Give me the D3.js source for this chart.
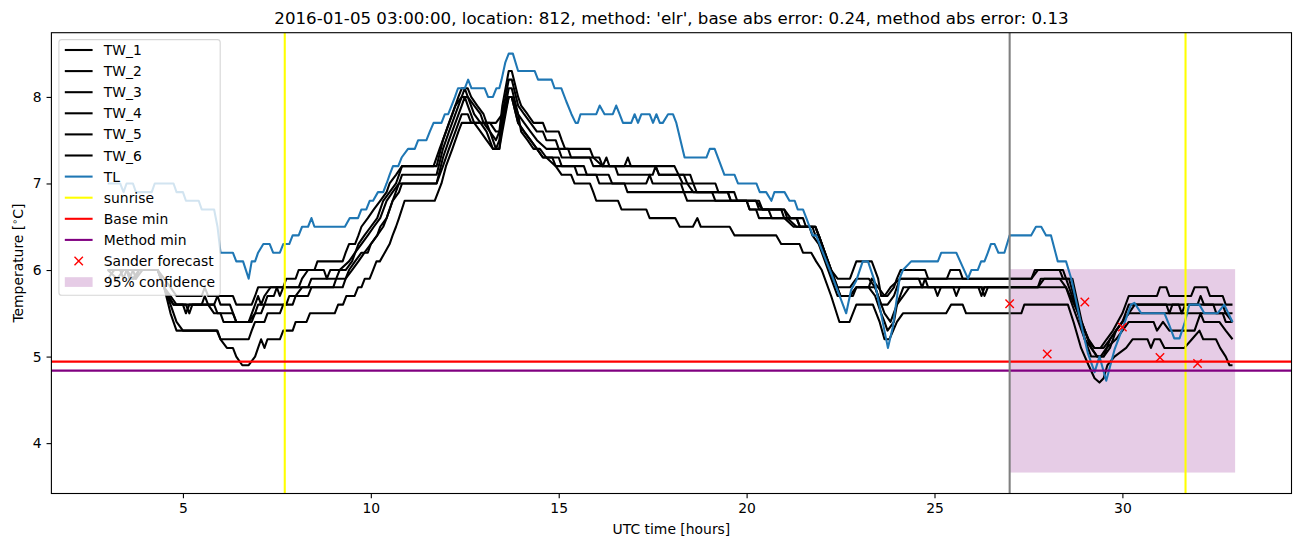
<!DOCTYPE html>
<html><head><meta charset="utf-8">
<script src="https://cdn.jsdelivr.net/npm/d3@7/dist/d3.min.js"></script>
<style>body{margin:0;background:#fff;} text{font-family:"DejaVu Sans",sans-serif;fill:#000;}</style>
</head><body><svg id="c" width="1302" height="547"></svg>
<script>
// ---------------- DATA ----------------
const titleText = "2016-01-05 03:00:00, location: 812, method: 'elr', base abs error: 0.24, method abs error: 0.13";
const xTicks = [5, 10, 15, 20, 25, 30];
const yTicks = [4, 5, 6, 7, 8];
const seriesNames = ["TW_1", "TW_2", "TW_3", "TW_4", "TW_5", "TW_6"];

const TW_1 = [[3.0,6.0],[3.5,6.0],[3.58,5.9],[3.67,6.0],[4.33,6.0],[4.5,5.9],[4.67,5.8],[4.83,5.7],[5.5,5.7],[5.58,5.8],[5.67,5.7],[6.33,5.7],[6.42,5.6],[6.83,5.6],[6.92,5.7],[7.0,5.8],[7.67,5.8],[7.75,5.9],[8.0,5.9],[8.08,6.0],[8.5,6.0],[8.58,6.1],[9.25,6.1],[9.33,6.2],[9.42,6.3],[9.58,6.3],[9.67,6.4],[9.75,6.5],[9.92,6.6],[10.08,6.7],[10.25,6.8],[10.42,6.9],[10.5,7.0],[10.67,7.1],[10.83,7.2],[11.67,7.2],[11.83,7.4],[12.0,7.6],[12.17,7.8],[12.33,8.0],[12.42,8.1],[12.58,8.1],[12.67,8.0],[12.83,7.9],[13.0,7.8],[13.08,7.7],[13.17,7.6],[13.33,7.5],[13.42,7.6],[13.5,7.9],[13.67,8.3],[13.75,8.3],[13.92,8.0],[14.0,7.9],[14.17,7.8],[14.33,7.7],[14.58,7.7],[14.67,7.6],[15.0,7.6],[15.08,7.5],[15.17,7.4],[15.83,7.4],[15.92,7.3],[16.17,7.2],[16.27,7.3],[16.35,7.2],[16.75,7.2],[16.84,7.3],[16.92,7.2],[18.08,7.2],[18.3,7.0],[19.17,7.0],[19.25,6.9],[19.67,6.9],[19.75,6.8],[20.33,6.8],[20.42,6.7],[20.92,6.7],[21.0,6.6],[21.33,6.6],[21.42,6.5],[21.75,6.5],[21.83,6.4],[21.92,6.4],[22.25,6.0],[22.42,5.9],[22.75,5.9],[22.92,6.1],[23.33,6.1],[23.5,5.9],[23.58,5.7],[23.75,5.7],[23.92,5.8],[24.0,5.9],[24.1,6.0],[24.75,6.0],[24.83,5.9],[25.33,5.9],[25.42,6.0],[25.67,6.0],[25.75,5.9],[27.58,5.9],[27.75,6.0],[28.42,6.0],[28.5,5.9],[28.67,5.9],[28.92,5.4],[29.08,5.2],[29.25,5.1],[29.42,5.1],[29.58,5.2],[29.75,5.3],[30.0,5.5],[30.17,5.7],[30.92,5.7],[31.0,5.8],[31.17,5.8],[31.25,5.7],[31.83,5.7],[31.92,5.8],[32.25,5.8],[32.33,5.7],[32.67,5.7],[32.75,5.6],[32.93,5.6]];
const TW_2 = [[3.0,6.0],[3.33,6.0],[3.42,5.9],[3.5,6.0],[4.33,6.0],[4.5,5.8],[4.67,5.7],[4.83,5.6],[5.0,5.6],[5.08,5.5],[5.17,5.6],[5.83,5.6],[5.92,5.7],[6.0,5.6],[6.25,5.6],[6.42,5.4],[6.75,5.4],[6.92,5.6],[7.0,5.7],[7.08,5.6],[7.17,5.7],[7.33,5.8],[7.5,5.8],[7.58,5.7],[7.67,5.8],[8.08,5.8],[8.17,5.9],[8.33,6.0],[8.75,6.0],[8.83,5.9],[8.92,6.0],[9.33,6.0],[9.5,6.1],[9.67,6.3],[9.83,6.4],[10.0,6.5],[10.17,6.6],[10.33,6.8],[10.5,6.9],[10.67,7.0],[10.75,7.1],[10.83,7.2],[11.75,7.2],[11.92,7.5],[12.08,7.7],[12.25,7.9],[12.42,8.0],[12.5,8.1],[12.58,8.0],[12.75,7.9],[12.92,7.8],[13.0,7.7],[13.17,7.6],[13.25,7.5],[13.33,7.4],[13.42,7.5],[13.5,7.8],[13.67,8.2],[13.75,8.2],[13.92,7.9],[14.08,7.8],[14.25,7.7],[14.42,7.6],[14.58,7.6],[14.67,7.5],[14.92,7.5],[15.0,7.4],[15.25,7.4],[15.33,7.3],[16.08,7.3],[16.17,7.2],[17.58,7.2],[17.67,7.1],[18.5,7.1],[18.58,7.0],[18.67,6.9],[19.5,6.9],[19.58,6.8],[20.25,6.8],[20.42,6.7],[21.0,6.7],[21.08,6.6],[21.33,6.5],[21.83,6.5],[21.92,6.4],[22.17,6.1],[22.42,5.8],[22.75,5.8],[22.92,5.9],[23.25,5.9],[23.42,5.8],[23.58,5.6],[23.75,5.6],[23.92,5.7],[24.0,5.8],[24.08,5.9],[24.58,5.9],[24.67,5.8],[24.75,5.9],[27.58,5.9],[27.67,6.0],[28.33,6.0],[28.42,5.9],[28.58,5.9],[28.83,5.5],[29.0,5.3],[29.17,5.1],[29.33,5.0],[29.5,5.0],[29.67,5.2],[29.83,5.3],[30.0,5.4],[30.17,5.6],[31.17,5.6],[31.25,5.5],[31.33,5.6],[32.0,5.6],[32.08,5.7],[32.17,5.6],[32.67,5.6],[32.75,5.5],[32.93,5.5]];
const TW_3 = [[3.0,5.9],[3.17,6.0],[3.5,6.0],[3.58,5.9],[3.75,5.9],[3.83,6.0],[4.33,6.0],[4.5,5.8],[4.75,5.6],[5.08,5.6],[5.17,5.5],[5.25,5.6],[5.67,5.6],[5.83,5.5],[6.0,5.5],[6.08,5.4],[6.75,5.4],[6.92,5.5],[7.0,5.6],[7.17,5.6],[7.25,5.7],[7.42,5.7],[7.5,5.8],[8.33,5.8],[8.42,5.9],[9.08,5.9],[9.17,6.0],[9.42,6.1],[9.58,6.2],[9.75,6.3],[9.92,6.4],[10.08,6.5],[10.25,6.6],[10.42,6.8],[10.58,6.9],[10.75,7.0],[10.83,7.1],[11.75,7.1],[11.92,7.4],[12.08,7.6],[12.25,7.8],[12.42,8.0],[12.58,8.0],[12.75,7.8],[12.92,7.7],[13.08,7.6],[13.25,7.4],[13.42,7.4],[13.5,7.7],[13.67,8.1],[13.75,8.1],[13.92,7.8],[14.08,7.7],[14.25,7.6],[14.42,7.5],[14.67,7.4],[15.0,7.4],[15.08,7.3],[15.83,7.3],[15.92,7.2],[16.5,7.2],[16.58,7.1],[17.5,7.1],[17.58,7.2],[17.67,7.1],[18.33,7.1],[18.42,7.0],[18.58,6.9],[19.5,6.9],[19.58,6.8],[20.25,6.8],[20.33,6.7],[21.0,6.7],[21.17,6.6],[21.5,6.6],[21.58,6.5],[21.83,6.5],[22.0,6.3],[22.3,5.9],[22.5,5.7],[22.75,5.7],[22.92,5.8],[23.25,5.8],[23.33,5.9],[23.5,5.8],[23.67,5.7],[23.83,5.8],[24.08,5.9],[24.75,5.9],[24.83,5.8],[25.0,5.8],[25.08,5.7],[25.17,5.8],[26.17,5.8],[26.25,5.7],[26.33,5.8],[27.75,5.8],[27.83,5.9],[28.5,5.9],[28.58,5.8],[28.9,5.4],[29.1,5.2],[29.25,5.1],[29.5,5.1],[29.67,5.2],[29.83,5.3],[30.0,5.4],[30.17,5.5],[32.75,5.5],[32.93,5.4]];
const TW_4 = [[3.0,6.0],[3.25,5.9],[3.42,6.0],[4.33,6.0],[4.42,5.9],[4.58,5.7],[4.75,5.6],[5.5,5.6],[5.58,5.7],[5.67,5.6],[5.83,5.6],[5.92,5.5],[6.33,5.5],[6.42,5.4],[6.83,5.4],[6.92,5.5],[7.08,5.5],[7.17,5.6],[7.75,5.6],[7.83,5.7],[8.33,5.7],[8.42,5.8],[9.25,5.8],[9.33,5.9],[9.5,6.0],[9.67,6.1],[9.83,6.2],[10.0,6.3],[10.17,6.4],[10.33,6.5],[10.42,6.6],[10.58,6.8],[10.75,6.9],[10.83,7.0],[11.75,7.0],[11.92,7.3],[12.08,7.5],[12.25,7.7],[12.42,7.9],[12.5,8.0],[12.58,7.9],[12.75,7.7],[12.92,7.6],[13.08,7.5],[13.25,7.4],[13.42,7.4],[13.5,7.6],[13.67,8.0],[13.75,8.0],[13.92,7.7],[14.08,7.6],[14.25,7.5],[14.42,7.4],[14.58,7.3],[15.0,7.3],[15.08,7.2],[15.67,7.2],[15.75,7.1],[16.33,7.1],[16.42,7.0],[17.33,7.0],[17.42,7.1],[17.5,7.0],[18.25,7.0],[18.33,6.9],[19.08,6.9],[19.17,6.8],[20.0,6.8],[20.08,6.7],[20.58,6.7],[20.67,6.6],[21.0,6.6],[21.25,6.5],[21.67,6.5],[21.75,6.4],[21.92,6.3],[22.17,6.0],[22.42,5.7],[22.75,5.7],[22.92,5.8],[23.42,5.8],[23.5,5.7],[23.67,5.5],[23.83,5.4],[24.0,5.6],[24.17,5.7],[24.33,5.8],[25.5,5.8],[25.58,5.7],[25.67,5.8],[26.25,5.8],[26.33,5.7],[26.42,5.8],[28.5,5.8],[28.58,5.7],[28.83,5.4],[29.0,5.2],[29.17,5.1],[29.33,5.0],[29.5,5.0],[29.67,5.1],[29.83,5.3],[30.0,5.4],[30.17,5.5],[30.33,5.6],[31.5,5.6],[31.58,5.5],[31.67,5.6],[32.42,5.6],[32.5,5.5],[32.67,5.5],[32.75,5.4],[32.93,5.4]];
const TW_5 = [[3.0,6.0],[3.67,6.0],[3.75,5.9],[3.92,6.0],[4.33,6.0],[4.5,5.8],[4.67,5.5],[4.83,5.3],[5.92,5.3],[6.0,5.2],[6.75,5.2],[6.83,5.3],[6.92,5.4],[7.17,5.4],[7.25,5.5],[7.58,5.5],[7.67,5.6],[7.92,5.6],[8.0,5.7],[8.17,5.8],[9.0,5.8],[9.08,5.9],[9.33,5.9],[9.42,6.0],[9.58,6.1],[9.75,6.2],[9.92,6.2],[10.0,6.3],[10.17,6.4],[10.25,6.5],[10.42,6.6],[10.58,6.8],[10.75,7.0],[11.75,7.0],[11.92,7.2],[12.08,7.4],[12.25,7.6],[12.42,7.8],[12.58,7.8],[12.67,7.7],[13.17,7.7],[13.33,7.6],[13.42,7.6],[13.5,7.7],[13.67,8.0],[13.75,8.0],[13.92,7.7],[14.08,7.6],[14.25,7.5],[14.42,7.4],[14.58,7.3],[14.83,7.3],[14.92,7.2],[15.42,7.2],[15.5,7.1],[16.0,7.1],[16.08,7.0],[16.75,7.0],[16.83,6.9],[18.33,6.9],[18.42,6.8],[20.0,6.8],[20.08,6.7],[20.25,6.7],[20.33,6.6],[21.33,6.6],[21.42,6.5],[21.83,6.5],[21.92,6.4],[22.08,6.2],[22.33,5.9],[22.5,5.7],[22.83,5.7],[22.92,5.8],[23.25,5.8],[23.42,5.7],[23.58,5.5],[23.67,5.4],[23.75,5.3],[23.92,5.4],[24.0,5.6],[24.17,5.8],[27.75,5.8],[27.92,5.9],[28.33,5.9],[28.5,5.8],[28.83,5.5],[29.0,5.2],[29.17,5.0],[29.42,5.0],[29.58,5.1],[29.83,5.2],[30.0,5.3],[30.17,5.4],[30.83,5.4],[30.92,5.3],[31.08,5.4],[31.25,5.3],[31.92,5.3],[32.0,5.4],[32.08,5.5],[32.17,5.4],[32.58,5.4],[32.75,5.3],[32.93,5.2]];
const TW_6 = [[3.0,6.0],[3.5,6.0],[3.67,5.9],[3.83,6.0],[4.33,6.0],[4.5,5.8],[4.67,5.6],[4.83,5.4],[5.0,5.3],[5.9,5.3],[6.0,5.2],[6.17,5.1],[6.33,5.1],[6.42,5.0],[6.58,4.9],[6.75,4.9],[6.92,5.0],[7.0,5.1],[7.08,5.2],[7.17,5.1],[7.25,5.2],[7.58,5.2],[7.67,5.3],[7.92,5.3],[8.0,5.4],[8.29,5.4],[8.38,5.5],[9.04,5.5],[9.13,5.6],[9.26,5.6],[9.35,5.7],[9.57,5.7],[9.66,5.8],[9.75,5.8],[9.84,5.9],[9.97,5.9],[10.06,6.0],[10.15,6.1],[10.24,6.1],[10.37,6.2],[10.5,6.3],[10.58,6.4],[10.67,6.5],[10.75,6.6],[10.9,6.8],[11.7,6.8],[11.79,6.9],[11.88,7.0],[12.0,7.2],[12.17,7.4],[12.33,7.6],[12.42,7.7],[13.33,7.7],[13.5,7.8],[13.67,8.0],[13.75,8.0],[13.92,7.8],[14.0,7.6],[14.17,7.5],[14.33,7.4],[14.5,7.4],[14.67,7.3],[14.92,7.2],[15.08,7.1],[15.33,7.1],[15.42,7.0],[15.83,7.0],[15.92,6.9],[16.0,6.8],[16.58,6.8],[16.67,6.7],[17.33,6.7],[17.42,6.6],[18.1,6.6],[18.22,6.5],[18.57,6.5],[18.69,6.6],[18.78,6.5],[19.55,6.5],[19.68,6.4],[20.79,6.4],[20.92,6.3],[21.41,6.3],[21.5,6.2],[21.72,6.2],[21.85,6.1],[22.0,6.0],[22.25,5.7],[22.47,5.4],[22.74,5.4],[22.92,5.6],[23.36,5.6],[23.54,5.4],[23.67,5.2],[23.8,5.2],[23.9,5.3],[24.0,5.4],[24.16,5.5],[25.31,5.5],[25.44,5.6],[25.75,5.6],[25.84,5.5],[27.31,5.5],[27.39,5.6],[28.55,5.6],[28.7,5.4],[28.9,5.1],[29.1,4.9],[29.26,4.75],[29.39,4.7],[29.5,4.75],[29.6,4.9],[29.79,5.0],[30.1,5.1],[30.27,5.2],[30.67,5.2],[30.76,5.1],[30.85,5.2],[31.0,5.2],[31.12,5.1],[31.65,5.1],[31.85,5.2],[32.05,5.3],[32.15,5.2],[32.49,5.2],[32.6,5.1],[32.75,5.0],[32.85,4.9],[32.93,4.9]];
const TL = [[3.0,7.0],[3.33,7.0],[3.42,6.9],[3.5,7.0],[3.67,7.0],[3.75,6.9],[4.17,6.9],[4.25,7.0],[4.75,7.0],[4.83,6.9],[5.0,6.9],[5.08,6.8],[5.42,6.8],[5.5,6.7],[5.83,6.7],[5.92,6.5],[6.0,6.2],[6.33,6.2],[6.42,6.1],[6.6,6.1],[6.75,5.9],[6.83,6.1],[6.92,6.1],[7.0,6.2],[7.14,6.3],[7.31,6.3],[7.4,6.2],[7.58,6.2],[7.67,6.3],[7.83,6.3],[7.92,6.4],[8.08,6.4],[8.17,6.5],[8.33,6.5],[8.42,6.6],[8.5,6.5],[9.31,6.5],[9.44,6.6],[9.66,6.6],[9.75,6.7],[9.88,6.7],[9.97,6.8],[10.06,6.8],[10.19,6.9],[10.33,6.9],[10.42,7.0],[10.5,7.1],[10.59,7.2],[10.73,7.2],[10.82,7.3],[10.99,7.4],[11.17,7.4],[11.26,7.5],[11.48,7.5],[11.57,7.6],[11.67,7.7],[11.88,7.7],[11.97,7.8],[12.06,7.8],[12.15,7.9],[12.24,8.0],[12.32,8.1],[12.5,8.1],[12.59,8.2],[12.68,8.1],[13.03,8.1],[13.12,8.0],[13.25,8.0],[13.34,8.1],[13.42,8.1],[13.48,8.2],[13.58,8.4],[13.67,8.5],[13.78,8.5],[13.92,8.3],[14.36,8.3],[14.45,8.2],[14.81,8.2],[14.89,8.1],[15.07,8.1],[15.2,7.95],[15.34,7.8],[15.45,7.7],[15.51,7.7],[15.58,7.8],[16.0,7.8],[16.09,7.9],[16.22,7.8],[16.44,7.8],[16.53,7.9],[16.62,7.8],[16.71,7.7],[16.93,7.7],[17.02,7.8],[17.11,7.7],[17.2,7.8],[17.42,7.8],[17.51,7.7],[17.6,7.8],[17.69,7.7],[17.77,7.7],[17.91,7.8],[18.04,7.8],[18.13,7.7],[18.35,7.3],[18.93,7.3],[19.02,7.4],[19.15,7.4],[19.41,7.1],[19.68,7.1],[19.77,7.0],[20.26,7.0],[20.35,6.9],[20.52,6.9],[20.66,6.8],[20.74,6.9],[21.01,6.9],[21.14,6.8],[21.28,6.8],[21.36,6.7],[21.5,6.7],[21.59,6.6],[21.76,6.4],[21.85,6.4],[22.25,5.96],[22.65,5.5],[22.78,5.77],[22.92,5.88],[23.09,6.1],[23.23,6.1],[23.4,5.88],[23.76,5.1],[23.89,5.34],[24.07,5.9],[24.16,6.0],[24.38,6.1],[25.09,6.1],[25.18,6.2],[25.58,6.2],[25.89,5.9],[25.98,6.0],[26.15,6.0],[26.24,6.1],[26.33,6.1],[26.42,6.2],[26.5,6.3],[26.6,6.3],[26.7,6.2],[26.86,6.2],[27.0,6.4],[27.57,6.4],[27.7,6.5],[27.84,6.5],[27.97,6.4],[28.1,6.4],[28.28,6.1],[28.5,6.1],[28.64,5.9],[28.94,5.3],[29.08,5.04],[29.26,4.82],[29.39,5.0],[29.57,4.72],[29.79,5.08],[29.92,5.23],[30.05,5.38],[30.23,5.6],[30.32,5.62],[30.5,5.5],[31.12,5.5],[31.25,5.36],[31.38,5.21],[31.52,5.21],[31.65,5.38],[31.78,5.6],[32.05,5.6],[32.18,5.5],[32.53,5.5],[32.71,5.6],[32.93,5.4]];

const sunriseHours = [7.71, 31.68];
const nowHour = 27.0;
const baseMin = 4.942;
const methodMin = 4.838;
const forecastHours = [27, 28, 29, 30, 31, 32];
const forecastTemps = [5.61, 5.03, 5.63, 5.34, 4.99, 4.92];
const confHours = [27, 33];
const confTemps = [3.66, 6.01];
const legendLabels = ["TW_1","TW_2","TW_3","TW_4","TW_5","TW_6","TL","sunrise","Base min","Method min","Sander forecast","95% confidence"];

// ---------------- LAYOUT ----------------
const svg = d3.select("#c");
const L = 51.4, R = 1291.5, T = 32.7, B = 493.5;
const x = d3.scaleLinear().domain([1.5, 34.5]).range([L, R]);
const y = d3.scaleLinear().domain([3.418, 8.742]).range([B, T]);
const blue = "#1f77b4";
const purpleFill = "rgba(128,0,128,0.2)";

svg.append("rect").attr("width",1302).attr("height",547).attr("fill","#fff");
svg.append("defs").append("clipPath").attr("id","clip")
  .append("rect").attr("x",L).attr("y",T).attr("width",R-L).attr("height",B-T);
const g = svg.append("g").attr("clip-path","url(#clip)");

// confidence band
g.append("rect")
  .attr("x", x(confHours[0])).attr("width", x(confHours[1]) - x(confHours[0]))
  .attr("y", y(confTemps[1])).attr("height", y(confTemps[0]) - y(confTemps[1]))
  .attr("fill", purpleFill);

const line = d3.line().x(d => x(d[0])).y(d => y(d[1]));
[TW_1, TW_2, TW_3, TW_4, TW_5, TW_6].forEach(s => {
  g.append("path").datum(s).attr("d", line).attr("fill","none")
   .attr("stroke","#000").attr("stroke-width",2.08).attr("stroke-linejoin","round");
});
g.append("path").datum(TL).attr("d", line).attr("fill","none")
  .attr("stroke",blue).attr("stroke-width",2.08).attr("stroke-linejoin","round");

// sunrise
sunriseHours.forEach(h => {
  g.append("line").attr("x1",x(h)).attr("x2",x(h)).attr("y1",T).attr("y2",B)
   .attr("stroke","#ffff00").attr("stroke-width",2.08);
});
// base/method min
g.append("line").attr("x1",L).attr("x2",R).attr("y1",y(baseMin)).attr("y2",y(baseMin))
  .attr("stroke","#ff0000").attr("stroke-width",2.08);
g.append("line").attr("x1",L).attr("x2",R).attr("y1",y(methodMin)).attr("y2",y(methodMin))
  .attr("stroke","#800080").attr("stroke-width",2.08);
// now line
g.append("line").attr("x1",x(nowHour)).attr("x2",x(nowHour)).attr("y1",T).attr("y2",B)
  .attr("stroke","#808080").attr("stroke-width",2.08);

// forecast markers
const xm = "M-4.2,-4.2L4.2,4.2M-4.2,4.2L4.2,-4.2";
forecastHours.forEach((h,i) => {
  g.append("path").attr("d", xm)
   .attr("transform",`translate(${x(h)},${y(forecastTemps[i])})`)
   .attr("stroke","#ff0000").attr("stroke-width",1.4).attr("fill","none");
});

// axes
const fs = 13.9;
const xAxis = svg.append("g").attr("transform",`translate(0,${B})`)
  .call(d3.axisBottom(x).tickValues(xTicks).tickSizeInner(4.86).tickSizeOuter(0).tickPadding(4.86).tickFormat(d3.format("d")));
const yAxis = svg.append("g").attr("transform",`translate(${L},0)`)
  .call(d3.axisLeft(y).tickValues(yTicks).tickSizeInner(4.86).tickSizeOuter(0).tickPadding(4.86).tickFormat(d3.format("d")));
[xAxis, yAxis].forEach(a => {
  a.select(".domain").remove();
  a.selectAll("line").attr("stroke","#000").attr("stroke-width",1.1);
  a.selectAll("text").attr("font-size",fs).attr("font-family","DejaVu Sans").attr("fill","#000");
});
// spines
svg.append("rect").attr("x",L).attr("y",T).attr("width",R-L).attr("height",B-T)
  .attr("fill","none").attr("stroke","#000").attr("stroke-width",1.1);

// labels
svg.append("text").attr("x",(L+R)/2).attr("y",24.4).attr("text-anchor","middle")
  .attr("font-size",16.67).text(titleText);
svg.append("text").attr("x",(L+R)/2).attr("y",534).attr("text-anchor","middle")
  .attr("font-size",fs).text("UTC time [hours]");
const yl = svg.append("text").attr("transform",`translate(23,${(T+B)/2}) rotate(-90)`)
  .attr("text-anchor","middle").attr("font-size",fs);
yl.append("tspan").text("Temperature [");
yl.append("tspan").attr("dy",-5).attr("font-size",9.7).text("\u2218");
yl.append("tspan").attr("dy",5).text("C]");

// legend
const lg = svg.append("g");
lg.append("rect").attr("x",58.9).attr("y",39.6).attr("width",161.3).attr("height",255.6)
  .attr("rx",2.8).attr("fill","#fff").attr("fill-opacity",0.8)
  .attr("stroke","#cccccc").attr("stroke-opacity",0.8).attr("stroke-width",1.1);
const lgColors = ["#000","#000","#000","#000","#000","#000",blue,"#ffff00","#ff0000","#800080"];
legendLabels.forEach((lab,i) => {
  const cy = 50.0 + i*21.1;
  if (i < 10) {
    lg.append("line").attr("x1",64.8).attr("x2",92.6).attr("y1",cy).attr("y2",cy)
      .attr("stroke",lgColors[i]).attr("stroke-width",2.08);
  } else if (i === 10) {
    lg.append("path").attr("d",xm).attr("transform",`translate(78.7,${cy})`)
      .attr("stroke","#ff0000").attr("stroke-width",1.4).attr("fill","none");
  } else {
    lg.append("rect").attr("x",64.8).attr("y",cy-4.9).attr("width",27.8).attr("height",9.7)
      .attr("fill",purpleFill);
  }
  lg.append("text").attr("x",103.8).attr("y",cy+5).attr("font-size",fs).text(lab);
});
</script>
</body></html>
